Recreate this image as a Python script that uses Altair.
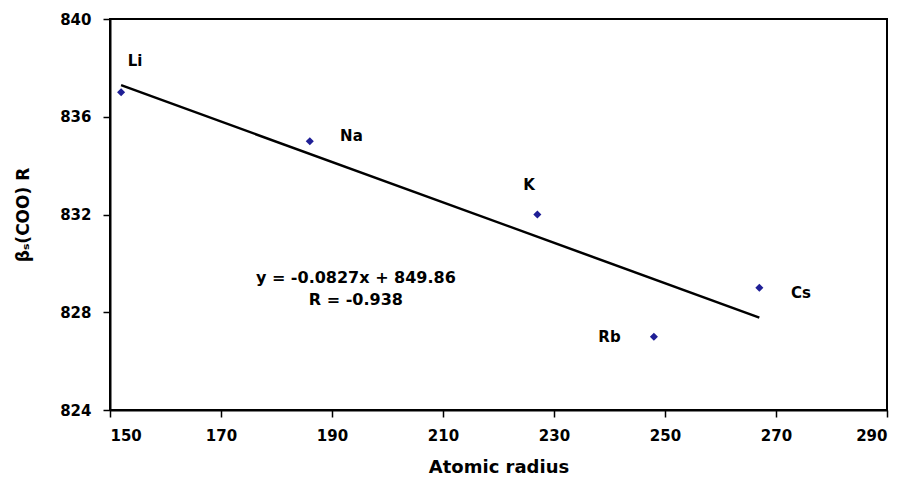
import altair as alt
import pandas as pd

elements = ["Li", "Na", "K", "Rb", "Cs"]
radius = [152, 186, 227, 248, 267]
beta = [837.0, 835.0, 832.0, 827.0, 829.0]

label_x = [154.5, 193.5, 225.5, 240.0, 274.5]
label_y = [838.3, 835.2, 833.2, 827.0, 828.8]

eq_lines = ["y = -0.0827x + 849.86", "R = -0.938"]
eq_x = [194.3, 194.3]
eq_y = [829.4, 828.5]

pts = pd.DataFrame({"el": elements, "x": radius, "y": beta})
labs = pd.DataFrame({"el": elements, "x": label_x, "y": label_y})
eq = pd.DataFrame({"t": eq_lines, "x": eq_x, "y": eq_y})

FONT = "DejaVu Sans"

xs = alt.Scale(domain=[150, 290], nice=False, zero=False)
ys = alt.Scale(domain=[824, 840], nice=False, zero=False)

xaxis = alt.Axis(values=list(range(150, 291, 20)), title="Atomic radius", grid=False,
                 tickSize=7, tickColor="black", tickWidth=1.5, domainColor="black", domainWidth=2,
                 labelFont=FONT, labelFontSize=15, labelFontWeight="bold", labelColor="black",
                 labelPadding=11, titleFont=FONT, titleFontSize=18, titleFontWeight="bold",
                 titleColor="black", titlePadding=15)
yaxis = alt.Axis(values=list(range(824, 841, 4)), title="βₛ(COO) R", grid=False,
                 tickSize=7, tickColor="black", tickWidth=1.5, domainColor="black", domainWidth=2,
                 labelFont=FONT, labelFontSize=15, labelFontWeight="bold", labelColor="black",
                 labelPadding=12, titleFont=FONT, titleFontSize=17, titleFontWeight="bold",
                 titleColor="black", titlePadding=27)

base = alt.Chart(pts)

line = base.transform_regression("x", "y").mark_line(color="black", strokeWidth=2.5).encode(
    x=alt.X("x:Q", scale=xs, axis=xaxis),
    y=alt.Y("y:Q", scale=ys, axis=yaxis),
)

points = base.mark_point(shape="diamond", filled=True, color="#1f1f96", size=65, opacity=1).encode(
    x=alt.X("x:Q", scale=xs),
    y=alt.Y("y:Q", scale=ys),
)

labels = alt.Chart(labs).mark_text(font=FONT, fontSize=15, fontWeight="bold", color="black").encode(
    x=alt.X("x:Q", scale=xs),
    y=alt.Y("y:Q", scale=ys),
    text="el:N",
)

eqtext = alt.Chart(eq).mark_text(font=FONT, fontSize=16, fontWeight="bold", color="black").encode(
    x=alt.X("x:Q", scale=xs),
    y=alt.Y("y:Q", scale=ys),
    text="t:N",
)

chart = alt.layer(line, points, labels, eqtext).properties(
    width=777, height=391,
    autosize=alt.AutoSizeParams(type="none"),
    padding={"left": 110, "top": 19, "right": 19, "bottom": 68},
    background="white",
).configure_view(stroke="black", strokeWidth=2)

chart.save("out.html", embed_options={"renderer": "svg", "actions": False})
